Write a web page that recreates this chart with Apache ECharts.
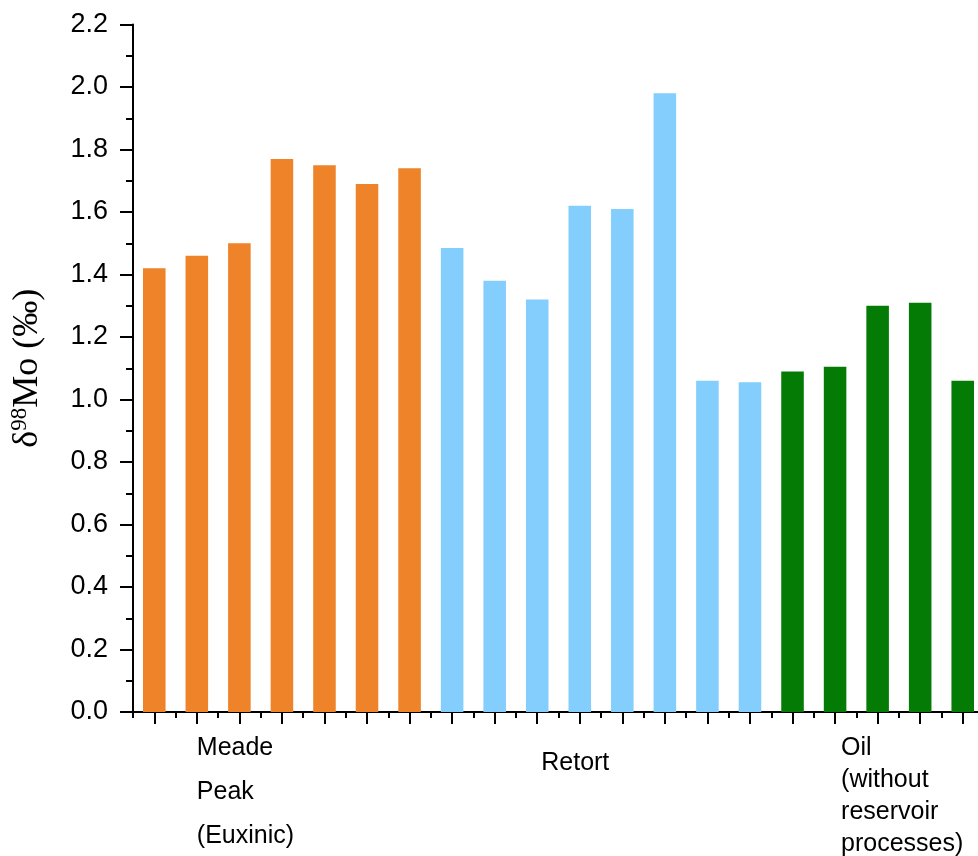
<!DOCTYPE html>
<html>
<head>
<meta charset="utf-8">
<script src="https://cdn.jsdelivr.net/npm/echarts@6/dist/echarts.min.js"></script>
<style>
  html, body { margin: 0; padding: 0; background: #fff; }
  #chart { width: 978px; height: 856px; }
</style>
</head>
<body>
<div id="chart"></div>
<script>
// δ98Mo values per sample group (‰)
const meadePeak = [1.42, 1.46, 1.50, 1.77, 1.75, 1.69, 1.74];
const retort = [1.485, 1.38, 1.32, 1.62, 1.61, 1.98, 1.06, 1.055];
const oil = [1.09, 1.105, 1.30, 1.31, 1.06];

// Group captions and the bar slot each caption is attached to
const groupLabels = ['Meade\nPeak\n(Euxinic)', 'Retort', 'Oil\n(without\nreservoir\nprocesses)'];
const groupLabelSlot = [1, 9, 16];

// Y axis range and tick step
const yMin = 0;
const yMax = 2.2;
const yStep = 0.2;

const groups = [meadePeak, retort, oil];
const groupColors = ['#EE832A', '#83CEFC', '#047B04'];
const total = groups.reduce((n, g) => n + g.length, 0);

// Per-caption text tweaks (line spacing and nudge)
const captionStyles = [
  { align: 'left', lineHeight: 44 },
  { align: 'left', lineHeight: 44, padding: [15, 0, 0, 4] },
  { align: 'left', lineHeight: 32, padding: [6, 0, 0, 6] }
];

const categories = new Array(total).fill('');
groupLabelSlot.forEach((slot, i) => {
  categories[slot] = { value: groupLabels[i], textStyle: captionStyles[i] };
});

// Pad each group to full length so every bar sits in its own slot
let offset = 0;
const series = groups.map((g, i) => {
  const data = new Array(total).fill(null);
  g.forEach((v, j) => { data[offset + j] = v; });
  offset += g.length;
  return {
    type: 'bar',
    stack: 'all',
    barWidth: '53%',
    data: data,
    itemStyle: { color: groupColors[i] },
    emphasis: { disabled: true }
  };
});

const sans = "'Liberation Sans', Arial, Helvetica, sans-serif";
const serif = "'Liberation Serif', 'Times New Roman', serif";

const chart = echarts.init(document.getElementById('chart'), null, { renderer: 'canvas' });
chart.setOption({
  animation: false,
  backgroundColor: '#ffffff',
  grid: { left: 133, right: -6, top: 24.5, bottom: 144, containLabel: false, outerBoundsMode: 'none' },
  xAxis: [
    {
      type: 'category',
      data: categories,
      position: 'bottom',
      axisLine: { show: true, lineStyle: { color: '#000', width: 2 } },
      axisTick: { show: true, alignWithLabel: true, interval: 0, length: 12, lineStyle: { color: '#000', width: 2 } },
      axisLabel: {
        show: true, interval: 0, align: 'left', verticalAlign: 'top',
        margin: 14, color: '#000', fontSize: 25, fontFamily: sans, lineHeight: 44
      },
      splitLine: { show: false }
    },
    {
      type: 'category',
      data: new Array(total).fill(''),
      position: 'bottom',
      axisLine: { show: false },
      axisTick: { show: true, interval: 0, length: 6, lineStyle: { color: '#000', width: 2 } },
      axisLabel: { show: false },
      splitLine: { show: false }
    }
  ],
  yAxis: {
    type: 'value',
    min: yMin,
    max: yMax,
    interval: yStep,
    name: '{d|δ}{s|98}{d|Mo (‰)}',
    nameLocation: 'middle',
    nameGap: 86,
    nameTextStyle: {
      rich: {
        d: { fontSize: 36, fontFamily: serif, color: '#000' },
        s: { fontSize: 23, fontFamily: serif, color: '#000', padding: [0, 0, 16, 0] }
      }
    },
    axisLine: { show: true, lineStyle: { color: '#000', width: 2 } },
    axisTick: { show: true, length: 13, lineStyle: { color: '#000', width: 2 } },
    minorTick: { show: true, splitNumber: 2, length: 7, lineStyle: { color: '#000', width: 2 } },
    axisLabel: {
      margin: 25, color: '#000', fontSize: 27, fontFamily: sans,
      formatter: v => v.toFixed(1)
    },
    splitLine: { show: false },
    minorSplitLine: { show: false }
  },
  series: series
});
</script>
</body>
</html>
